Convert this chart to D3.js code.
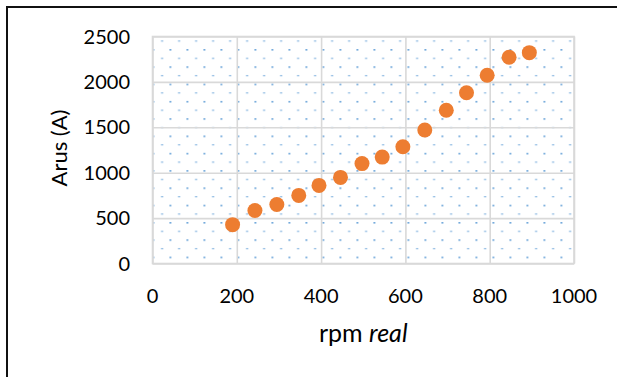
<!DOCTYPE html>
<html>
<head>
<meta charset="utf-8">
<script src="https://cdn.jsdelivr.net/npm/d3@7"></script>
<style>
  html, body { margin: 0; background: #fff; overflow: hidden; }
  svg { display: block; }
  svg text { font-family: Lato, "Open Sans", sans-serif; fill: #000; }
</style>
</head>
<body>
<svg width="617" height="377"></svg>
<script>
// rpm real vs Arus (A)
const rpm = [190, 243, 295, 347, 395, 446, 497, 545, 594, 646, 697, 745, 794, 846, 894];
const arus = [428, 584, 650, 750, 860, 948, 1100, 1172, 1286, 1470, 1687, 1881, 2073, 2271, 2322];
const xTicks = [0, 200, 400, 600, 800, 1000];
const yTicks = [0, 500, 1000, 1500, 2000, 2500];

const svg = d3.select("svg");
const plotL = 152.5, plotR = 574, plotT = 36.5, plotB = 263.5;
const w = plotR - plotL, h = plotB - plotT;

const x = d3.scaleLinear().domain([0, 1000]).range([plotL, plotR]);
const y = d3.scaleLinear().domain([0, 2500]).range([plotB, plotT]);

// outer frame (only left and top edges show in the crop)
svg.append("rect")
    .attr("x", 7).attr("y", 7)
    .attr("width", 800).attr("height", 600)
    .attr("fill", "none")
    .attr("stroke", "#111")
    .attr("stroke-width", 2);

// dotted fill of the plot area
const pat = svg.append("defs").append("pattern")
    .attr("id", "dots")
    .attr("patternUnits", "userSpaceOnUse")
    .attr("x", plotL).attr("y", plotT)
    .attr("width", 17).attr("height", 17.3);
pat.append("rect").attr("x", 0).attr("y", 12.5).attr("width", 1.7).attr("height", 1.6).attr("fill", "#5b9bd5");
pat.append("rect").attr("x", 8.7).attr("y", 4).attr("width", 1.8).attr("height", 1.1).attr("fill", "#5b9bd5");

svg.append("rect")
    .attr("x", plotL).attr("y", plotT)
    .attr("width", w).attr("height", h)
    .attr("fill", "url(#dots)");

// gridlines
const gx = svg.append("g")
    .attr("transform", `translate(0,${plotB})`)
    .call(d3.axisBottom(x).tickValues(xTicks).tickSize(-h).tickFormat(""));
const gy = svg.append("g")
    .attr("transform", `translate(${plotL},0)`)
    .call(d3.axisLeft(y).tickValues(yTicks).tickSize(-w).tickFormat(""));
for (const g of [gx, gy]) {
    g.select(".domain").remove();
    g.selectAll("line").attr("stroke", "#d9d9d9").attr("stroke-width", 1.6);
}

svg.append("rect")
    .attr("x", plotL).attr("y", plotT)
    .attr("width", w).attr("height", h)
    .attr("fill", "none")
    .attr("stroke", "#d9d9d9")
    .attr("stroke-width", 1.6);

// tick labels
svg.append("g")
    .selectAll("text")
    .data(xTicks)
    .join("text")
    .attr("x", d => x(d))
    .attr("y", 302.5)
    .attr("text-anchor", "middle")
    .style("font-size", "20px")
    .text(d => d);

svg.append("g")
    .selectAll("text")
    .data(yTicks)
    .join("text")
    .attr("x", 130)
    .attr("y", d => y(d) + 7)
    .attr("text-anchor", "end")
    .style("font-size", "20px")
    .text(d => d);

// axis titles
const xt = svg.append("text")
    .attr("x", (plotL + plotR) / 2)
    .attr("y", 342)
    .attr("text-anchor", "middle")
    .style("font-size", "25px");
xt.append("tspan").text("rpm ");
xt.append("tspan").style("font-style", "italic").text("real");

svg.append("text")
    .attr("transform", `translate(67,${(plotT + plotB) / 2 - 2}) rotate(-90)`)
    .attr("text-anchor", "middle")
    .style("font-size", "22px")
    .text("Arus (A)");

// points
svg.append("g")
    .selectAll("circle")
    .data(rpm.map((r, i) => [r, arus[i]]))
    .join("circle")
    .attr("cx", d => x(d[0]))
    .attr("cy", d => y(d[1]))
    .attr("r", 7.5)
    .attr("fill", "#ed7d31");
</script>
</body>
</html>
